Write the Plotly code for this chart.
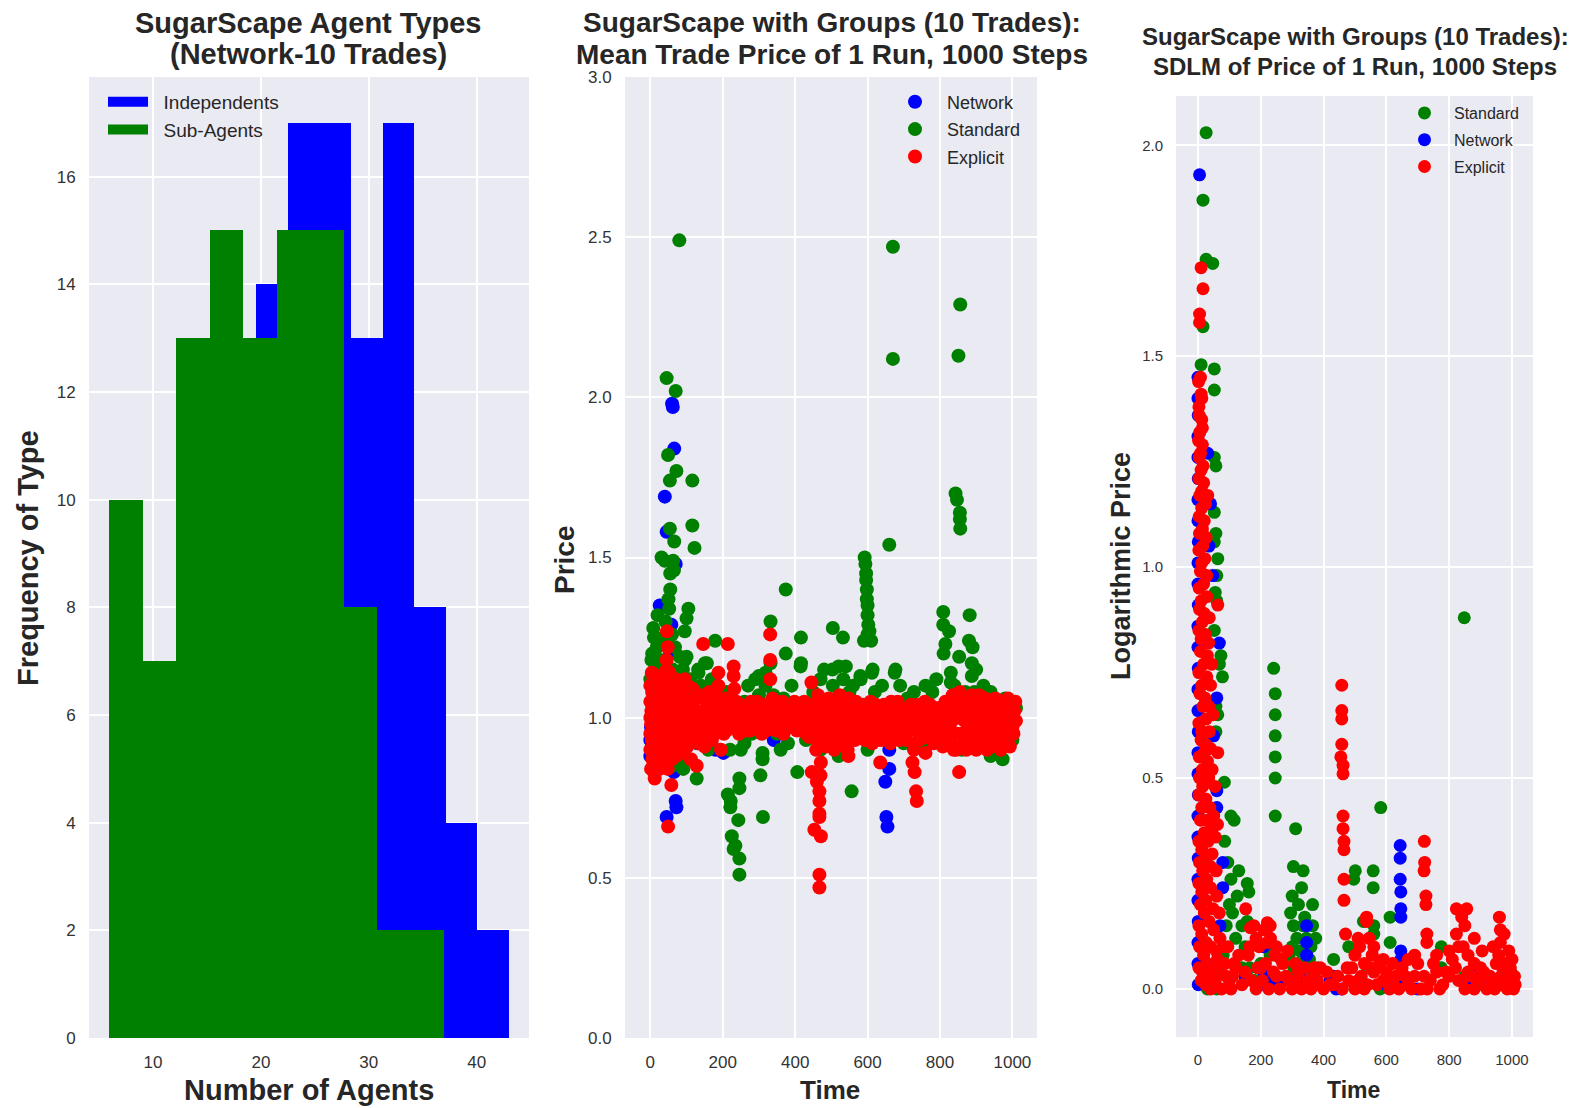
import plotly.graph_objects as go

W, H = 1576, 1108

# ---------------- Panel 1: histogram (bin edges and counts) ----------------
ind_edges = [13.70, 16.63, 19.56, 22.49, 25.42, 28.35, 31.28, 34.21, 37.14, 40.07, 43.00]
ind_counts = [3, 5, 14, 17, 17, 13, 17, 8, 4, 2]
sub_edges = [5.92, 9.03, 12.14, 15.24, 18.35, 21.46, 24.56, 27.67, 30.78, 33.89, 37.00]
sub_counts = [10, 7, 13, 15, 13, 15, 15, 8, 2, 2]

# ---------------- Panel 2: mean trade price (time, price) ----------------
p2_network = [
    (0, 0.88), (0, 0.93), (2, 0.97), (3, 1.0), (5, 1.04), (4, 0.90), (10, 1.08), (25, 1.12), (45, 1.10), (55, 1.20),
    (40, 1.69), (45, 1.58), (26, 1.35), (60, 1.98), (62, 1.97), (66, 1.84), (70, 1.48), (58, 1.29), (45, 0.69),
    (70, 0.74), (72, 0.72), (50, 1.12), (60, 1.05), (35, 0.95), (55, 0.85), (65, 0.83), (80, 0.87),
    (114, 0.95), (130, 0.92), (150, 0.93), (180, 0.90), (202, 0.89), (165, 0.96), (95, 0.93),
    (260, 0.99), (300, 1.0), (341, 0.93), (350, 0.98), (400, 1.0), (445, 0.98), (490, 1.01),
    (540, 1.02), (560, 0.97), (600, 0.99), (645, 0.98), (660, 0.90), (660, 0.84), (649, 0.80),
    (652, 0.69), (655, 0.66), (660, 1.0), (700, 1.0), (746, 1.03), (800, 1.0), (830, 1.02),
    (855, 1.03), (880, 1.01), (918, 0.94), (950, 1.0), (990, 0.98),
]
p2_standard = [
    (45, 2.06), (70, 2.02), (80, 2.49), (49, 1.82), (72, 1.77), (54, 1.74), (116, 1.74), (54, 1.59), (116, 1.60),
    (66, 1.55), (122, 1.53), (31, 1.50), (40, 1.49), (63, 1.49), (55, 1.45), (65, 1.46), (55, 1.40), (50, 1.37),
    (20, 1.32), (52, 1.34), (105, 1.34), (100, 1.31), (95, 1.27), (10, 1.25), (60, 1.26), (3, 1.18), (95, 1.18),
    (151, 1.17), (133, 1.14), (81, 1.19), (100, 1.19), (132, 1.15), (156, 1.17), (179, 1.24),
    (0, 1.12), (5, 1.20), (8, 1.28), (12, 1.15), (18, 1.22), (22, 1.10), (28, 1.18), (35, 1.25), (38, 1.13),
    (42, 1.30), (48, 1.08), (62, 1.15), (68, 1.22), (75, 1.12), (85, 1.10), (90, 1.15), (110, 1.12),
    (120, 1.08), (140, 1.10), (160, 1.08), (170, 1.12), (190, 1.06), (60, 0.85), (75, 0.88), (20, 0.92),
    (65, 0.95), (100, 0.92), (160, 0.90), (220, 0.90), (260, 0.92),
    (91, 0.87), (91, 0.84), (128, 0.81), (15, 0.85), (30, 0.90),
    (246, 0.81), (246, 0.78), (214, 0.76), (222, 0.74), (221, 0.72), (243, 0.68), (225, 0.63), (235, 0.60),
    (230, 0.59), (246, 0.56), (246, 0.51),
    (304, 0.82), (311, 0.69), (310, 0.89), (310, 0.87), (360, 0.90), (406, 0.83), (374, 1.40), (332, 1.30),
    (332, 1.17), (416, 1.25), (416, 1.17), (374, 1.20), (300, 1.13), (318, 1.10), (318, 1.14), (300, 1.07),
    (340, 1.07), (368, 1.06), (415, 1.16), (260, 1.05), (280, 0.95), (350, 0.95), (430, 0.93), (460, 0.96),
    (504, 1.28), (532, 1.25), (503, 1.15), (520, 1.16), (540, 1.16), (504, 1.10), (550, 1.08), (533, 1.12),
    (580, 1.13), (614, 1.15), (581, 1.12), (612, 1.14), (675, 1.14), (677, 1.15), (556, 0.77), (660, 1.54),
    (670, 2.47), (670, 2.12), (592, 1.50), (594, 1.48), (596, 1.45), (596, 1.43), (598, 1.40), (598, 1.37),
    (600, 1.35), (600, 1.32), (602, 1.29), (600, 1.26), (590, 1.24), (610, 1.24), (605, 1.27),
    (728, 1.08), (779, 1.08), (700, 0.97), (550, 0.95), (400, 0.97), (200, 0.98), (150, 1.0),
    (856, 2.29), (851, 2.13), (843, 1.70), (847, 1.68), (855, 1.64), (855, 1.62), (856, 1.59), (809, 1.33),
    (809, 1.29), (825, 1.27), (815, 1.23), (882, 1.32), (880, 1.24), (890, 1.22), (853, 1.19), (830, 1.14),
    (830, 1.11), (888, 1.17), (888, 1.13), (895, 1.08), (931, 1.05), (992, 1.04), (1010, 1.03), (973, 0.87),
    (810, 1.20), (900, 1.15), (960, 1.03), (1000, 1.04), (800, 0.99), (950, 0.98),
    (210, 1.08), (270, 1.10), (290, 1.12), (390, 1.10), (450, 1.08), (470, 1.12), (480, 1.15), (560, 1.10),
    (620, 1.08), (640, 1.10), (690, 1.10), (710, 1.06), (760, 1.10), (790, 1.12), (840, 1.10), (870, 1.08),
    (920, 1.10), (940, 1.08), (980, 1.06), (250, 0.90), (380, 0.92), (470, 0.90), (520, 0.88), (600, 0.90),
    (700, 0.92), (760, 0.91), (860, 0.90), (940, 0.88), (1000, 0.93),
]
p2_explicit = [
    (0, 0.95), (0, 1.0), (0, 1.05), (0, 1.10), (0, 0.90), (2, 0.98), (3, 1.02), (4, 0.93), (5, 1.08), (6, 0.87),
    (8, 1.0), (8, 1.04), (10, 0.96), (10, 0.83), (12, 0.81), (12, 1.06), (14, 0.92), (15, 1.0), (16, 1.10),
    (18, 0.97), (20, 1.03), (20, 0.88), (22, 0.94), (24, 1.07), (25, 1.0), (27, 0.91), (28, 1.12), (30, 0.98),
    (30, 1.04), (32, 0.86), (34, 1.01), (35, 0.95), (36, 1.09), (38, 1.0), (40, 0.93), (40, 1.13), (42, 1.05),
    (44, 0.98), (46, 1.27), (48, 1.22), (45, 1.18), (45, 1.15), (46, 0.90), (48, 0.84), (49, 0.66), (50, 1.02),
    (52, 0.96), (52, 1.07), (54, 0.88), (55, 1.0), (56, 1.11), (58, 0.79), (58, 0.93), (60, 1.04), (60, 0.99),
    (63, 0.95), (66, 1.03), (70, 0.98), (72, 1.08), (75, 0.92), (78, 1.0), (80, 1.05), (83, 0.96), (86, 1.02),
    (88, 0.90), (90, 1.07), (93, 0.99), (96, 1.03), (100, 0.95), (103, 1.10), (106, 1.0), (110, 0.97),
    (112, 0.87), (115, 1.04), (118, 0.93), (120, 1.0), (125, 1.06), (128, 0.85), (130, 0.98), (135, 1.02),
    (140, 0.95), (146, 1.23), (147, 1.01), (150, 0.91), (155, 1.05), (160, 0.98), (165, 1.03), (170, 0.93),
    (175, 1.0), (180, 1.08), (185, 0.96), (188, 1.14), (188, 1.10), (190, 1.02), (195, 0.90), (198, 1.05),
    (200, 0.99), (205, 1.03), (210, 0.96), (214, 1.23), (215, 1.01), (220, 0.97), (225, 1.06), (230, 1.16),
    (230, 1.13), (232, 1.09), (235, 0.99), (240, 1.02), (245, 0.95), (250, 1.04), (255, 1.0), (260, 0.97),
    (265, 1.03), (270, 1.0), (275, 0.96), (280, 1.02), (285, 1.0), (290, 0.98), (295, 1.05), (300, 1.0),
    (305, 0.97), (310, 1.02), (315, 1.0), (320, 0.96), (325, 1.04), (331, 1.26), (331, 1.18), (331, 1.12),
    (335, 1.0), (340, 0.98), (345, 1.03), (350, 1.0), (355, 0.97), (360, 1.01), (365, 1.05), (370, 0.99),
    (375, 1.02), (380, 0.97), (385, 1.0), (390, 1.04), (395, 0.98), (400, 1.01), (405, 0.96), (410, 1.03),
    (415, 1.0), (420, 0.98), (425, 1.05), (430, 0.95), (435, 1.0), (440, 1.03), (445, 1.11), (446, 0.83),
    (453, 0.65), (467, 0.77), (467, 0.74), (467, 0.70), (467, 0.69), (471, 0.86), (471, 0.63), (467, 0.51),
    (467, 0.47), (460, 0.80), (470, 0.82), (450, 0.97), (455, 1.02), (460, 0.93), (465, 1.0), (470, 1.05),
    (475, 0.96), (480, 1.0), (485, 0.91), (490, 1.04), (495, 0.98), (500, 1.01), (505, 0.94), (510, 1.02),
    (515, 0.97), (520, 1.05), (525, 0.92), (530, 1.0), (535, 0.95), (540, 1.03), (545, 0.90), (547, 0.88),
    (550, 1.0), (555, 0.96), (560, 1.04), (565, 0.93), (570, 1.0), (575, 0.97), (580, 1.02), (585, 0.95),
    (590, 1.0), (595, 0.98), (600, 1.03), (605, 0.94), (610, 1.0), (615, 0.97), (620, 1.02), (625, 0.93),
    (630, 1.0), (635, 0.86), (640, 0.97), (645, 1.04), (650, 0.99), (655, 0.95), (660, 1.01), (665, 1.05),
    (670, 0.97), (675, 1.0), (680, 1.03), (685, 0.96), (690, 1.0), (695, 0.98), (700, 1.02), (705, 0.95),
    (710, 1.0), (715, 0.97), (720, 1.04), (724, 0.86), (728, 0.90), (734, 0.77), (736, 0.74), (730, 0.83),
    (735, 0.99), (740, 1.02), (745, 0.96), (750, 1.0), (755, 1.03), (760, 0.89), (765, 0.98), (770, 1.01),
    (775, 0.95), (780, 1.0), (785, 1.03), (790, 0.97), (795, 1.0), (800, 0.94), (805, 1.02), (810, 0.98),
    (815, 1.05), (820, 0.92), (825, 1.0), (830, 0.96), (835, 1.07), (840, 1.03), (845, 0.90), (850, 1.0),
    (853, 0.83), (855, 1.08), (860, 0.95), (865, 1.02), (870, 0.93), (875, 1.05), (880, 0.98), (885, 0.92),
    (890, 1.01), (895, 0.96), (900, 0.90), (905, 1.04), (910, 0.97), (915, 1.0), (920, 0.94), (925, 1.06),
    (930, 0.90), (935, 1.0), (940, 0.96), (945, 1.03), (950, 0.92), (955, 1.0), (960, 0.97), (965, 1.05),
    (970, 0.95), (975, 1.01), (980, 0.98), (985, 1.04), (990, 0.94), (995, 1.0), (1000, 0.97), (1005, 1.02),
    (1010, 0.99),
    (2, 0.84), (4, 1.14), (7, 0.95), (9, 1.12), (11, 0.89), (13, 0.98), (17, 1.03), (19, 0.86), (21, 1.13),
    (23, 0.99), (26, 0.84), (29, 1.05), (31, 0.93), (33, 1.10), (37, 0.89), (39, 1.06), (41, 0.97), (43, 0.87),
    (47, 1.03), (51, 0.92), (53, 1.14), (57, 1.02), (59, 0.87), (61, 1.10), (64, 0.90), (67, 0.97), (69, 1.12),
    (71, 0.88), (74, 1.03), (77, 0.94), (81, 1.10), (84, 0.89), (87, 0.97), (92, 0.93), (95, 1.12), (98, 0.98),
    (102, 0.91), (108, 1.07), (113, 0.99), (117, 1.09), (122, 0.94), (127, 1.02), (133, 0.92), (138, 1.07),
    (143, 0.98), (152, 1.02), (158, 0.94), (163, 1.08), (168, 0.99), (173, 1.04), (178, 0.95), (183, 1.02),
    (193, 0.98), (203, 0.95), (208, 1.06), (218, 1.03), (228, 0.97), (238, 1.05), (248, 0.98), (258, 1.02),
    (268, 0.96), (278, 1.05), (288, 0.97), (298, 1.02), (308, 0.95), (318, 1.04), (328, 0.98), (338, 1.06),
    (348, 0.96), (358, 1.03), (368, 0.95), (378, 1.04), (388, 0.97), (398, 1.05), (408, 0.99), (418, 1.03),
    (428, 0.97), (438, 0.94), (448, 1.04), (458, 0.90), (463, 1.07), (468, 0.95), (478, 1.03), (483, 0.93),
    (488, 0.97), (493, 1.06), (498, 0.92), (503, 1.05), (508, 0.90), (513, 1.0), (518, 0.94), (523, 1.07),
    (528, 0.96), (533, 1.04), (538, 0.91), (543, 0.99), (548, 1.06), (553, 0.93), (558, 1.01), (563, 0.97),
    (568, 1.05), (573, 0.94), (578, 1.0), (583, 0.98), (588, 1.04), (593, 0.93), (598, 1.0), (603, 0.97),
    (608, 1.05), (613, 0.92), (618, 0.99), (623, 1.04), (628, 0.96), (633, 1.02), (638, 0.93), (643, 1.0),
    (648, 0.95), (653, 1.03), (658, 0.97), (663, 0.92), (668, 1.02), (673, 0.94), (678, 0.99), (683, 1.05),
    (688, 0.93), (693, 1.02), (698, 0.96), (703, 1.0), (708, 0.93), (713, 1.03), (718, 0.97), (723, 1.0),
    (733, 0.96), (738, 1.04), (743, 0.93), (748, 1.01), (753, 0.97), (758, 1.05), (763, 0.94), (768, 1.0),
    (773, 1.04), (778, 0.96), (783, 0.92), (788, 1.02), (793, 0.95), (798, 1.03), (803, 0.98), (808, 0.91),
    (813, 1.0), (818, 0.96), (823, 1.04), (828, 0.93), (833, 0.99), (838, 0.90), (843, 1.05), (848, 0.95),
    (858, 0.91), (863, 1.06), (868, 0.99), (873, 0.90), (878, 1.03), (883, 0.95), (888, 1.07), (893, 0.92),
    (898, 1.0), (903, 0.95), (908, 1.07), (913, 0.92), (918, 1.02), (923, 0.97), (928, 1.03), (933, 0.93),
    (938, 1.05), (943, 0.91), (948, 0.99), (953, 1.06), (958, 0.93), (963, 1.01), (968, 0.90), (973, 1.04),
    (978, 0.94), (983, 1.0), (988, 1.06), (993, 0.91), (998, 1.03), (1003, 0.95), (1008, 1.05),
]

# ---------------- Panel 3: SDLM of log price (time, value) ----------------
p3_standard = [
    (26, 2.03), (16, 1.87), (26, 1.73), (47, 1.72), (16, 1.57), (10, 1.48), (52, 1.47), (52, 1.42), (52, 1.26),
    (57, 1.24), (52, 1.13), (57, 1.08), (52, 1.06), (63, 1.02), (60, 0.98), (55, 0.94), (60, 0.92), (52, 0.85),
    (73, 0.79), (68, 0.77), (78, 0.74), (57, 0.67), (63, 0.65), (57, 0.61), (84, 0.49), (105, 0.41), (115, 0.40),
    (105, 0.26), (157, 0.25), (162, 0.23), (157, 0.16), (100, 0.20), (90, 0.15), (120, 0.12), (140, 0.05),
    (80, 0.08), (60, 0.0), (30, 0.0),
    (110, 0.18), (125, 0.22), (140, 0.15), (150, 0.10), (165, 0.05), (180, 0.02), (200, 0.06), (215, 0.03),
    (230, 0.08), (130, 0.28), (95, 0.30), (85, 0.35),
    (241, 0.76), (246, 0.70), (246, 0.65), (246, 0.60), (246, 0.55), (246, 0.50), (246, 0.41), (311, 0.38),
    (304, 0.29), (335, 0.28), (330, 0.24), (304, 0.15), (335, 0.15), (365, 0.15), (241, 0.10), (300, 0.10),
    (320, 0.06), (290, 0.03), (310, 0.02), (350, 0.05), (360, 0.10), (370, 0.03), (320, 0.20), (345, 0.12),
    (295, 0.18), (300, 0.22), (315, 0.12), (325, 0.09), (340, 0.17), (355, 0.07), (365, 0.20), (375, 0.12),
    (380, 0.05), (290, 0.08), (305, 0.05), (330, 0.02),
    (848, 0.88), (582, 0.43), (501, 0.28), (496, 0.26), (558, 0.28), (558, 0.24), (612, 0.17), (527, 0.16),
    (560, 0.15), (560, 0.13), (480, 0.10), (432, 0.07), (612, 0.11), (775, 0.10), (775, 0.05), (996, 0.04),
    (540, 0.05), (580, 0.0), (650, 0.02), (850, 0.03), (1000, 0.01),
]
p3_network = [
    (5, 1.93), (0, 1.45), (0, 1.40), (1, 1.36), (0, 1.31), (0, 1.26), (1, 1.21), (0, 1.16), (0, 1.11), (1, 1.06),
    (0, 1.01), (0, 0.96), (1, 0.91), (0, 0.86), (0, 0.81), (1, 0.76), (0, 0.71), (0, 0.66), (1, 0.61), (0, 0.56),
    (0, 0.51), (1, 0.46), (0, 0.41), (0, 0.36), (1, 0.31), (0, 0.26), (0, 0.21), (1, 0.16), (0, 0.11), (0, 0.06),
    (1, 0.01),
    (31, 1.27), (47, 0.98), (68, 0.82), (60, 0.69), (60, 0.47), (60, 0.43), (79, 0.30), (79, 0.24), (40, 1.15),
    (35, 1.05), (50, 0.60), (70, 0.15), (209, 0.10), (209, 0.04), (209, 0.01), (230, 0.02), (346, 0.15),
    (346, 0.11), (346, 0.08), (340, 0.02), (420, 0.02), (430, 0.03), (440, 0.0), (458, 0.0), (644, 0.34),
    (644, 0.31), (644, 0.26), (646, 0.23), (646, 0.19), (646, 0.17), (646, 0.09), (646, 0.07), (646, 0.02),
    (883, 0.04), (870, 0.02), (910, 0.01), (600, 0.01), (700, 0.0), (150, 0.03), (260, 0.01),
]
p3_explicit = [
    (10, 1.71), (16, 1.66), (5, 1.60), (5, 1.58), (8, 1.45), (10, 1.41), (3, 1.38), (12, 1.35), (6, 1.32),
    (14, 1.29), (4, 1.26), (10, 1.23), (18, 1.20), (6, 1.17), (31, 1.17), (12, 1.14), (20, 1.11), (5, 1.08),
    (15, 1.05), (22, 1.02), (8, 0.99), (18, 0.96), (28, 0.93), (63, 0.91), (5, 0.90), (14, 0.87), (24, 0.84),
    (34, 0.82), (8, 0.80), (18, 0.77), (28, 0.74), (40, 0.72), (6, 0.70), (16, 0.67), (26, 0.64), (36, 0.61),
    (10, 0.59), (20, 0.56), (30, 0.54), (63, 0.56), (45, 0.52), (5, 0.50), (15, 0.48), (25, 0.45), (38, 0.43),
    (50, 0.41), (8, 0.40), (20, 0.37), (32, 0.35), (55, 0.36), (45, 0.32), (5, 0.30), (15, 0.28), (28, 0.26),
    (40, 0.24), (60, 0.22), (8, 0.20), (20, 0.18), (35, 0.16), (50, 0.14), (70, 0.12), (5, 0.10), (18, 0.08),
    (30, 0.06), (45, 0.05), (65, 0.04), (85, 0.06), (10, 0.02), (25, 0.01), (40, 0.0), (55, 0.02), (75, 0.0),
    (100, 0.02), (120, 0.05), (95, 0.10), (110, 0.03), (130, 0.08),
    (2, 1.44), (12, 1.40), (4, 1.36), (14, 1.33), (2, 1.30), (8, 1.27), (16, 1.24), (3, 1.21), (12, 1.18),
    (24, 1.15), (4, 1.12), (14, 1.09), (26, 1.07), (3, 1.04), (12, 1.01), (28, 0.98), (4, 0.95), (10, 0.92),
    (20, 0.89), (36, 0.88), (3, 0.85), (10, 0.83), (30, 0.79), (44, 0.77), (3, 0.75), (12, 0.72), (22, 0.69),
    (34, 0.67), (48, 0.65), (3, 0.63), (12, 0.61), (24, 0.58), (40, 0.57), (4, 0.55), (14, 0.52), (34, 0.50),
    (54, 0.48), (3, 0.46), (12, 0.43), (28, 0.40), (44, 0.38), (62, 0.39), (3, 0.35), (12, 0.33), (26, 0.31),
    (40, 0.29), (58, 0.28), (3, 0.25), (12, 0.23), (25, 0.21), (48, 0.19), (68, 0.18), (3, 0.15), (12, 0.13),
    (26, 0.11), (40, 0.10), (58, 0.09), (80, 0.10), (3, 0.05), (14, 0.04), (28, 0.03), (50, 0.01), (62, 0.07),
    (90, 0.03), (105, 0.0), (115, 0.06), (140, 0.01), (150, 0.04), (160, 0.08), (170, 0.02), (185, 0.0),
    (190, 0.05), (195, 0.10), (205, 0.02), (215, 0.06), (225, 0.0), (240, 0.04), (245, 0.08), (260, 0.0),
    (165, 0.10), (185, 0.12), (210, 0.14), (250, 0.10), (265, 0.07), (285, 0.09), (310, 0.06),
    (152, 0.19), (178, 0.15), (230, 0.15), (220, 0.11), (167, 0.145), (231, 0.12), (221, 0.157), (200, 0.05),
    (250, 0.03), (270, 0.06), (290, 0.02), (320, 0.04), (340, 0.05), (370, 0.05), (390, 0.05), (372, 0.04),
    (372, 0.01), (300, 0.0), (420, 0.01), (280, 0.03), (310, 0.02), (330, 0.0), (350, 0.02), (360, 0.0),
    (380, 0.02), (400, 0.0), (410, 0.04), (430, 0.01), (445, 0.03), (460, 0.0),
    (458, 0.72), (458, 0.66), (458, 0.64), (458, 0.58), (455, 0.55), (462, 0.53), (462, 0.51), (462, 0.41),
    (462, 0.38), (465, 0.35), (465, 0.33), (465, 0.26), (465, 0.21), (470, 0.13), (475, 0.05),
    (537, 0.17), (537, 0.16), (510, 0.12), (560, 0.10), (580, 0.06),
    (500, 0.08), (515, 0.10), (530, 0.06), (545, 0.12), (555, 0.08), (590, 0.07), (620, 0.06), (670, 0.07),
    (690, 0.08), (760, 0.08), (800, 0.09), (830, 0.10), (840, 0.17), (880, 0.12), (905, 0.09), (940, 0.10),
    (960, 0.17), (975, 0.13), (990, 0.09), (1000, 0.07),
    (721, 0.35), (722, 0.30), (720, 0.28), (726, 0.22), (726, 0.20), (729, 0.13), (729, 0.11),
    (823, 0.19), (856, 0.19), (823, 0.13), (850, 0.15), (845, 0.10), (860, 0.08), (880, 0.06), (900, 0.05),
    (963, 0.14), (963, 0.11), (958, 0.08), (970, 0.05),
    (480, 0.02), (500, 0.0), (520, 0.03), (540, 0.01), (560, 0.04), (590, 0.02), (610, 0.0), (630, 0.03),
    (650, 0.05), (670, 0.01), (690, 0.03), (700, 0.06), (710, 0.0), (740, 0.02), (760, 0.04), (780, 0.01),
    (800, 0.03), (810, 0.07), (830, 0.02), (850, 0.0), (870, 0.03), (890, 0.01), (910, 0.04), (920, 0.0),
    (940, 0.02), (950, 0.06), (960, 0.01), (975, 0.03), (985, 0.0), (995, 0.05), (1000, 0.02), (1005, 0.0),
    (1008, 0.03), (490, 0.05), (510, 0.02), (530, 0.0), (550, 0.05), (570, 0.01), (600, 0.04), (620, 0.02),
    (640, 0.0), (660, 0.03), (680, 0.0), (720, 0.03), (730, 0.0), (750, 0.06), (770, 0.0), (790, 0.04),
    (820, 0.05), (840, 0.02), (860, 0.04), (880, 0.0), (900, 0.02), (930, 0.03), (945, 0.0), (965, 0.03),
    (980, 0.06), (990, 0.02), (1010, 0.01),
]

# ---------------- layout helpers ----------------
P1 = (89, 77, 529, 1038)   # left, top, right, bottom (px)
P2 = (625, 77, 1037, 1038)
P3 = (1176, 96, 1533, 1037)


def dx(box):
    return [box[0] / W, box[2] / W]


def dy(box):
    return [1 - box[3] / H, 1 - box[1] / H]


BLUE, GREEN, RED = "#0000FF", "#008000", "#FF0000"
BG = "#EAEAF2"
TXT = "#262626"
FONT = "Liberation Sans, Arial, sans-serif"
PAD = "\u00a0\u00a0"  # small gap between the wide swatch and its label

fig = go.Figure()


def bars(edges, counts, color):
    centers = [(edges[i] + edges[i + 1]) / 2 for i in range(len(counts))]
    widths = [edges[i + 1] - edges[i] for i in range(len(counts))]
    return go.Bar(x=centers, y=counts, width=widths, marker=dict(color=color, line=dict(width=0)),
                  showlegend=False, xaxis="x", yaxis="y", hoverinfo="skip")


fig.add_trace(bars(ind_edges, ind_counts, BLUE))
fig.add_trace(bars(sub_edges, sub_counts, GREEN))
# legend swatches for the histogram
for name, col in [("Independents", BLUE), ("Sub-Agents", GREEN)]:
    fig.add_trace(go.Scatter(x=[None], y=[None], mode="lines", line=dict(color=col, width=15),
                             name=PAD + name, legend="legend", xaxis="x", yaxis="y"))


def scat(pairs, color, name, ax, leg, size):
    return go.Scatter(x=[p[0] for p in pairs], y=[p[1] for p in pairs], mode="markers",
                      marker=dict(color=color, size=size, line=dict(width=0)), name=name,
                      xaxis="x" + ax, yaxis="y" + ax, legend=leg, legendgroup=leg + name)


fig.add_trace(scat(p2_network, BLUE, "Network", "2", "legend2", 14))
fig.add_trace(scat(p2_standard, GREEN, "Standard", "2", "legend2", 14))
fig.add_trace(scat(p2_explicit, RED, "Explicit", "2", "legend2", 14))

fig.add_trace(scat(p3_standard, GREEN, "Standard", "3", "legend3", 13))
fig.add_trace(scat(p3_network, BLUE, "Network", "3", "legend3", 13))
fig.add_trace(scat(p3_explicit, RED, "Explicit", "3", "legend3", 13))

axis_common = dict(showgrid=True, gridcolor="white", gridwidth=1.5, zeroline=False, showline=False,
                   ticks="outside", ticklen=9, tickcolor="rgba(0,0,0,0)", automargin=False,
                   tickfont=dict(family=FONT, size=17, color="#333333"))
ax3_common = dict(axis_common, tickfont=dict(family=FONT, size=15, color="#333333"))

fig.update_layout(
    width=W, height=H, margin=dict(l=0, r=0, t=0, b=0, pad=0, autoexpand=False),
    paper_bgcolor="white", plot_bgcolor=BG, barmode="overlay", bargap=0,
    font=dict(family=FONT, color=TXT),
    xaxis=dict(axis_common, domain=dx(P1), range=[4.07, 44.85], tickvals=[10, 20, 30, 40], anchor="y"),
    yaxis=dict(axis_common, domain=dy(P1), range=[0, 17.85], tickvals=list(range(0, 17, 2)), anchor="x"),
    xaxis2=dict(axis_common, domain=dx(P2), range=[-70, 1068], tickvals=[0, 200, 400, 600, 800, 1000], anchor="y2"),
    yaxis2=dict(axis_common, domain=dy(P2), range=[0, 3.0], tickvals=[0, 0.5, 1.0, 1.5, 2.0, 2.5, 3.0],
                tickformat=".1f", anchor="x2"),
    xaxis3=dict(ax3_common, domain=dx(P3), range=[-70, 1067], tickvals=[0, 200, 400, 600, 800, 1000], anchor="y3"),
    yaxis3=dict(ax3_common, domain=dy(P3), range=[-0.114, 2.117], tickvals=[0, 0.5, 1.0, 1.5, 2.0],
                tickformat=".1f", anchor="x3"),
    legend=dict(x=103 / W, y=1 - 83 / H, xanchor="left", yanchor="top", bgcolor="rgba(0,0,0,0)",
                font=dict(family=FONT, size=19, color=TXT), itemwidth=40),
    legend2=dict(x=883 / W, y=1 - 83.5 / H, xanchor="left", yanchor="top", bgcolor="rgba(0,0,0,0)",
                 font=dict(family=FONT, size=18, color=TXT), itemwidth=54, tracegroupgap=1),
    legend3=dict(x=1395 / W, y=1 - 96 / H, xanchor="left", yanchor="top", bgcolor="rgba(0,0,0,0)",
                 font=dict(family=FONT, size=16, color=TXT), itemwidth=49, tracegroupgap=3),
)

annots = []


def txt(x, y, s, size, bold=True, angle=0):
    annots.append(dict(x=x / W, y=1 - y / H, xref="paper", yref="paper", text=("<b>%s</b>" % s) if bold else s,
                       showarrow=False, xanchor="center", yanchor="middle", textangle=angle,
                       font=dict(family=FONT, size=size, color=TXT)))


# titles
txt(308, 23, "SugarScape Agent Types", 29)
txt(308, 54, "(Network-10 Trades)", 29)
txt(832, 23, "SugarScape with Groups (10 Trades):", 28)
txt(832, 54, "Mean Trade Price of 1 Run, 1000 Steps", 28)
txt(1355, 36, "SugarScape with Groups (10 Trades):", 24)
txt(1355, 67, "SDLM of Price of 1 Run, 1000 Steps", 24)
# axis titles
txt(309, 1090, "Number of Agents", 29)
txt(28, 558, "Frequency of Type", 29, angle=-90)
txt(830, 1090, "Time", 26)
txt(564, 560, "Price", 28, angle=-90)
txt(1353, 1090, "Time", 23)
txt(1121, 566, "Logarithmic Price", 27, angle=-90)

fig.update_layout(annotations=annots)
fig.write_html("out.html", config={"displayModeBar": False},
               post_script="document.body.style.margin='0px';")
